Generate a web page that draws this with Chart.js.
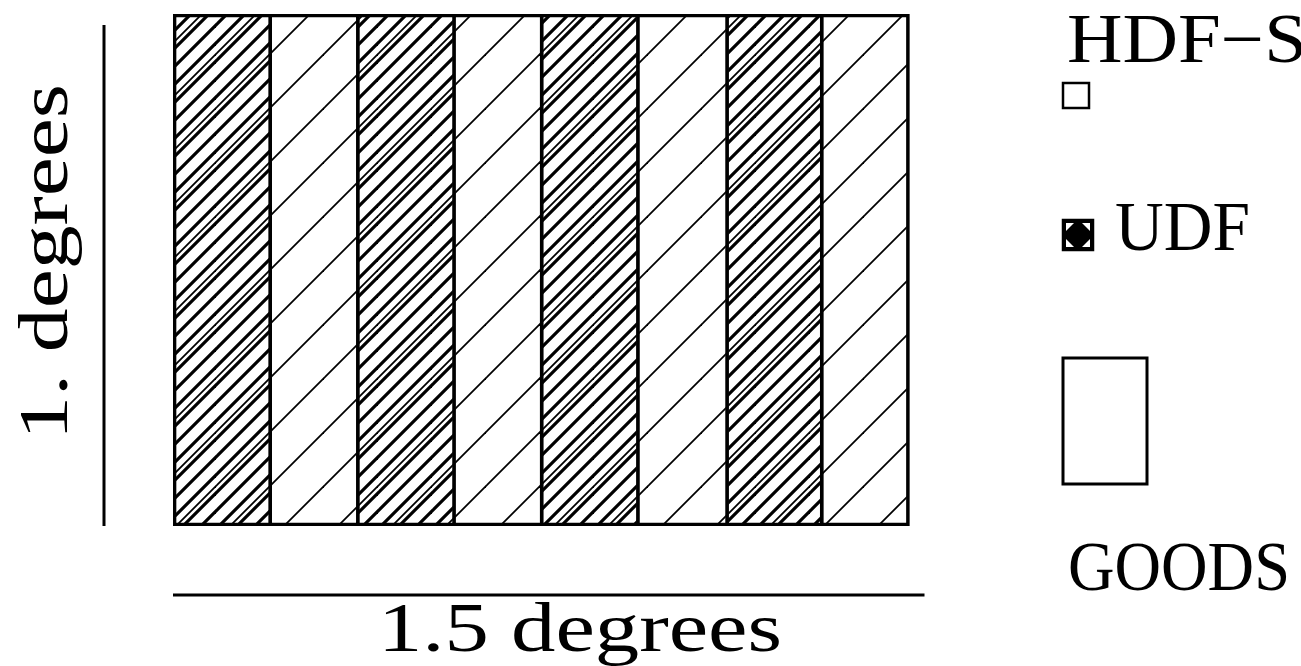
<!DOCTYPE html>
<html>
<head>
<meta charset="utf-8">
<script src="https://cdn.jsdelivr.net/npm/chart.js@4"></script>
<style>
  body { margin: 0; background: #fff; }
  #wrap { width: 1301px; height: 666px; }
</style>
</head>
<body>
<div id="wrap"><canvas id="Graph"></canvas></div>
<script>
// survey footprint, all in degrees
const fieldName = ['GOODS'];
const stripeEdges = [0, 0.194, 0.369, 0.561, 0.736, 0.928, 1.106, 1.295, 1.470];
const stripeKind = ['dense', 'sparse', 'dense', 'sparse', 'dense', 'sparse', 'dense', 'sparse'];
const fieldHeight = 1.022;
const barLengthX = 1.5;
const barLengthY = 1.0;
const xTitle = '1.5 degrees';
const yTitle = '1. degrees';
const legendLabels = ['HDF\u2212S', 'UDF', 'GOODS'];

function hatch(thick, thin) {
    const s = 54;
    const c = document.createElement('canvas');
    c.width = s; c.height = s;
    const g = c.getContext('2d');
    g.strokeStyle = '#000';
    const lines = (offs, w) => {
        g.lineWidth = w;
        offs.forEach(o => {
            for (let k = -s; k <= 2 * s; k += s) {
                g.beginPath();
                g.moveTo(o + k + 3, -3);
                g.lineTo(o + k - s - 3, s + 3);
                g.stroke();
            }
        });
    };
    lines(thin, 1.8);
    lines(thick, 3.2);
    return g.createPattern(c, 'repeat');
}

const patterns = {
    dense: hatch([7, 25, 43], [0]),
    sparse: hatch([], [0])
};

const stripes = stripeEdges.slice(0, -1).map((e, i) => ({ x: [e, stripeEdges[i + 1]], y: fieldName[0] }));
const last = stripes.length - 1;

function txt(ctx, s, w) {
    const m = ctx.measureText(s).width;
    ctx.scale(w / m, 1);
    ctx.fillText(s, 0, 0);
}

const extras = {
    id: 'extras',
    afterDraw(chart) {
        const ctx = chart.ctx;
        const x = chart.scales.x, yd = chart.scales.yDeg;
        ctx.save();
        ctx.strokeStyle = '#000';
        ctx.fillStyle = '#000';
        ctx.lineWidth = 3;

        // scale bars
        ctx.beginPath();
        ctx.moveTo(x.getPixelForValue(0), 595);
        ctx.lineTo(x.getPixelForValue(barLengthX), 595);
        ctx.moveTo(104, yd.getPixelForValue(0));
        ctx.lineTo(104, yd.getPixelForValue(barLengthY));
        ctx.stroke();

        ctx.font = '69px "Liberation Serif"';
        ctx.textBaseline = 'alphabetic';
        ctx.save(); ctx.translate(378, 651); txt(ctx, xTitle, 404); ctx.restore();
        ctx.save(); ctx.translate(67, 440); ctx.rotate(-Math.PI / 2); txt(ctx, yTitle, 356); ctx.restore();

        // legend
        ctx.save(); ctx.translate(1067, 62); txt(ctx, legendLabels[0], 240); ctx.restore();
        ctx.lineWidth = 2.5;
        ctx.strokeRect(1063, 83, 26, 25);

        ctx.save(); ctx.translate(1115, 250); txt(ctx, legendLabels[1], 135); ctx.restore();
        ctx.fillRect(1063, 220, 30, 30);
        ctx.fillStyle = '#fff';
        [[1063, 220, 1, 1], [1093, 220, -1, 1], [1063, 250, 1, -1], [1093, 250, -1, -1]].forEach(([cx, cy, sx, sy]) => {
            ctx.beginPath();
            ctx.moveTo(cx + sx * 3, cy + sy * 3);
            ctx.lineTo(cx + sx * 11, cy + sy * 3);
            ctx.lineTo(cx + sx * 3, cy + sy * 11);
            ctx.closePath();
            ctx.fill();
        });
        ctx.fillStyle = '#000';
        ctx.strokeRect(1063, 220, 30, 30);

        ctx.lineWidth = 3;
        ctx.strokeRect(1063, 358, 84, 126);
        ctx.save(); ctx.translate(1068, 590); txt(ctx, legendLabels[2], 222); ctx.restore();
        ctx.restore();
    }
};

new Chart(document.getElementById('Graph'), {
    type: 'bar',
    data: {
        labels: fieldName,
        datasets: [{
            data: stripes,
            backgroundColor: c => patterns[stripeKind[c.dataIndex]],
            borderColor: '#000',
            borderSkipped: false,
            borderWidth: c => ({
                top: 3, bottom: 3,
                left: c.dataIndex === 0 ? 3 : 1.5,
                right: c.dataIndex === last ? 3 : 1.5
            }),
            barPercentage: 1,
            categoryPercentage: 1
        }]
    },
    options: {
        indexAxis: 'y',
        responsive: true,
        maintainAspectRatio: false,
        animation: false,
        layout: { padding: { left: 173, right: 376.5, top: 14, bottom: 140 } },
        plugins: { legend: { display: false }, tooltip: { enabled: false } },
        scales: {
            x: { type: 'linear', min: 0, max: 1.5, display: false },
            y: { type: 'category', display: false },
            yDeg: { type: 'linear', axis: 'y', min: 0, max: fieldHeight, offset: false, display: false }
        }
    },
    plugins: [extras]
});
</script>
</body>
</html>
